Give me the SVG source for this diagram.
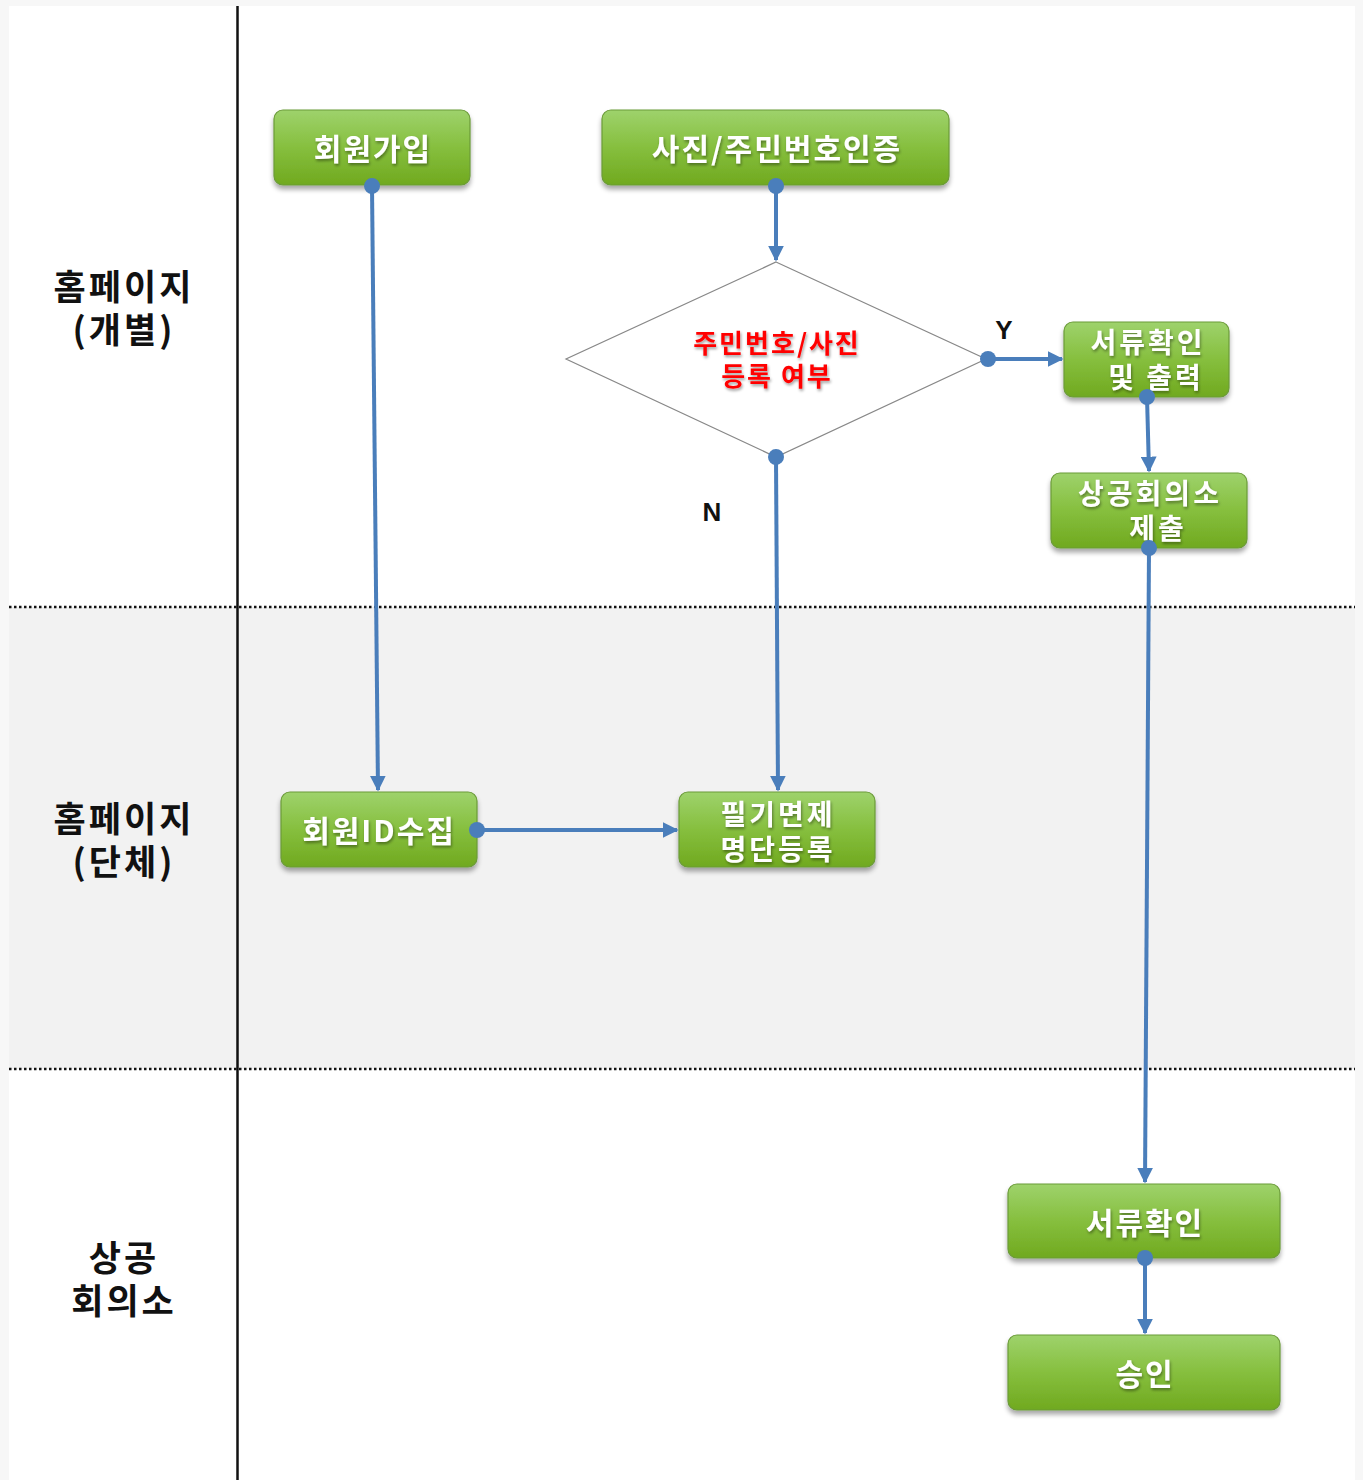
<svg xmlns="http://www.w3.org/2000/svg" width="1363" height="1480" viewBox="0 0 1363 1480">
<defs>
<linearGradient id="g" x1="0" y1="0" x2="0" y2="1">
<stop offset="0" stop-color="#9ed26c"/>
<stop offset="0.5" stop-color="#86bf3e"/>
<stop offset="1" stop-color="#70a91f"/>
</linearGradient>
<filter id="sh" x="-10%" y="-10%" width="120%" height="140%">
<feGaussianBlur in="SourceAlpha" stdDeviation="2.5"/>
<feOffset dx="0" dy="4"/>
<feComponentTransfer><feFuncA type="linear" slope="0.35"/></feComponentTransfer>
<feMerge><feMergeNode/><feMergeNode in="SourceGraphic"/></feMerge>
</filter>
<filter id="ts" x="-10%" y="-20%" width="120%" height="150%">
<feGaussianBlur in="SourceAlpha" stdDeviation="1.5"/>
<feOffset dx="1" dy="2"/>
<feComponentTransfer><feFuncA type="linear" slope="0.4"/></feComponentTransfer>
<feMerge><feMergeNode/><feMergeNode in="SourceGraphic"/></feMerge>
</filter>
<marker id="arr" viewBox="0 0 10 10" refX="9" refY="5" markerWidth="4" markerHeight="4" orient="auto" markerUnits="strokeWidth">
<path d="M0,0 L10,5 L0,10 z" fill="#4a7ebb"/>
</marker>
<marker id="dot" viewBox="0 0 10 10" refX="5" refY="5" markerWidth="4" markerHeight="4" orient="auto" markerUnits="strokeWidth">
<circle cx="5" cy="5" r="5" fill="#4a7ebb"/>
</marker>
</defs>
<style>
.box{fill:url(#g);stroke:#6b9b38;stroke-width:1.2;filter:url(#sh)}
.bt{font-family:"Noto Sans CJK KR","Noto Sans",sans-serif;font-weight:bold;font-size:30px;letter-spacing:2px;fill:#fff;text-anchor:middle;filter:url(#ts)}
.bt2{font-family:"Noto Sans CJK KR","Noto Sans",sans-serif;font-weight:bold;font-size:28px;letter-spacing:3px;fill:#fff;text-anchor:middle;filter:url(#ts)}
.lane{font-family:"Noto Sans CJK KR","Noto Sans",sans-serif;font-weight:bold;font-size:35px;letter-spacing:3px;fill:#111;text-anchor:middle}
.red{font-family:"Noto Sans CJK KR","Noto Sans",sans-serif;font-weight:bold;font-size:26px;letter-spacing:2px;fill:#ff0000;text-anchor:middle;filter:url(#ts)}
.yn{font-family:"Liberation Sans",Arial,sans-serif;font-weight:bold;font-size:26px;fill:#111;text-anchor:middle}
.c{fill:none;stroke:#4a7ebb;stroke-width:4;marker-start:url(#dot);marker-end:url(#arr)}
.sep{stroke:#111;stroke-width:2.5;stroke-dasharray:2.5 2.5}
</style>
<rect x="0" y="0" width="1363" height="1480" fill="#f7f7f7"/>
<rect x="9" y="6" width="1346" height="1474" fill="#ffffff"/>
<rect x="9" y="607" width="1346" height="462" fill="#f2f2f2"/>
<line class="sep" x1="9" y1="607" x2="1355" y2="607"/>
<line class="sep" x1="9" y1="1069" x2="1355" y2="1069"/>
<line x1="237.5" y1="6" x2="237.5" y2="1480" stroke="#111" stroke-width="2.5"/>
<g id="lanes">
<text class="lane" x="124" y="300">홈페이지</text>
<text class="lane" x="124" y="343">(개별)</text>
<text class="lane" x="124" y="832">홈페이지</text>
<text class="lane" x="124" y="875">(단체)</text>
<text class="lane" x="124" y="1271">상공</text>
<text class="lane" x="124" y="1314">회의소</text>
</g>
<g id="n1"><rect class="box" x="274" y="110" width="196" height="75" rx="9"/><text class="bt" x="373" y="160">회원가입</text></g>
<g id="n2"><rect class="box" x="602" y="110" width="347" height="75" rx="9"/><text class="bt" x="777" y="160">사진/주민번호인증</text></g>
<g id="n3"><polygon points="776,262 986,359 776,457 566,359" fill="#fff" stroke="#888" stroke-width="1.2"/><text class="red" x="777" y="353">주민번호/사진</text><text class="red" x="777" y="386">등록 여부</text></g>
<g id="n4"><rect class="box" x="1064" y="322" width="165" height="75" rx="9"/><text class="bt2" x="1148" y="353">서류확인</text><text class="bt2" x="1156" y="388">및 출력</text></g>
<g id="n5"><rect class="box" x="1051" y="473" width="196" height="75" rx="9"/><text class="bt2" x="1150" y="504">상공회의소</text><text class="bt2" x="1158" y="539">제출</text></g>
<g id="n6"><rect class="box" x="281" y="792" width="196" height="75" rx="9"/><text class="bt" x="379" y="842">회원ID수집</text></g>
<g id="n7"><rect class="box" x="679" y="792" width="196" height="75" rx="9"/><text class="bt2" x="778" y="825">필기면제</text><text class="bt2" x="778" y="860">명단등록</text></g>
<g id="n8"><rect class="box" x="1008" y="1184" width="272" height="74" rx="9"/><text class="bt" x="1145" y="1234">서류확인</text></g>
<g id="n9"><rect class="box" x="1008" y="1335" width="272" height="75" rx="9"/><text class="bt" x="1145" y="1385">승인</text></g>
<g id="connectors">
<path class="c" d="M372,186 L378,790"/>
<path class="c" d="M776,186 L776,260"/>
<path class="c" d="M988,359 L1062,359"/>
<path class="c" d="M776,457 L778,790"/>
<path class="c" d="M1147,397 L1149,471"/>
<path class="c" d="M1149,548 L1145,1182"/>
<path class="c" d="M477,830 L677,830"/>
<path class="c" d="M1145,1258 L1145,1333"/>
<text class="yn" x="1004" y="339">Y</text>
<text class="yn" x="712" y="521">N</text>
</g>
</svg>
